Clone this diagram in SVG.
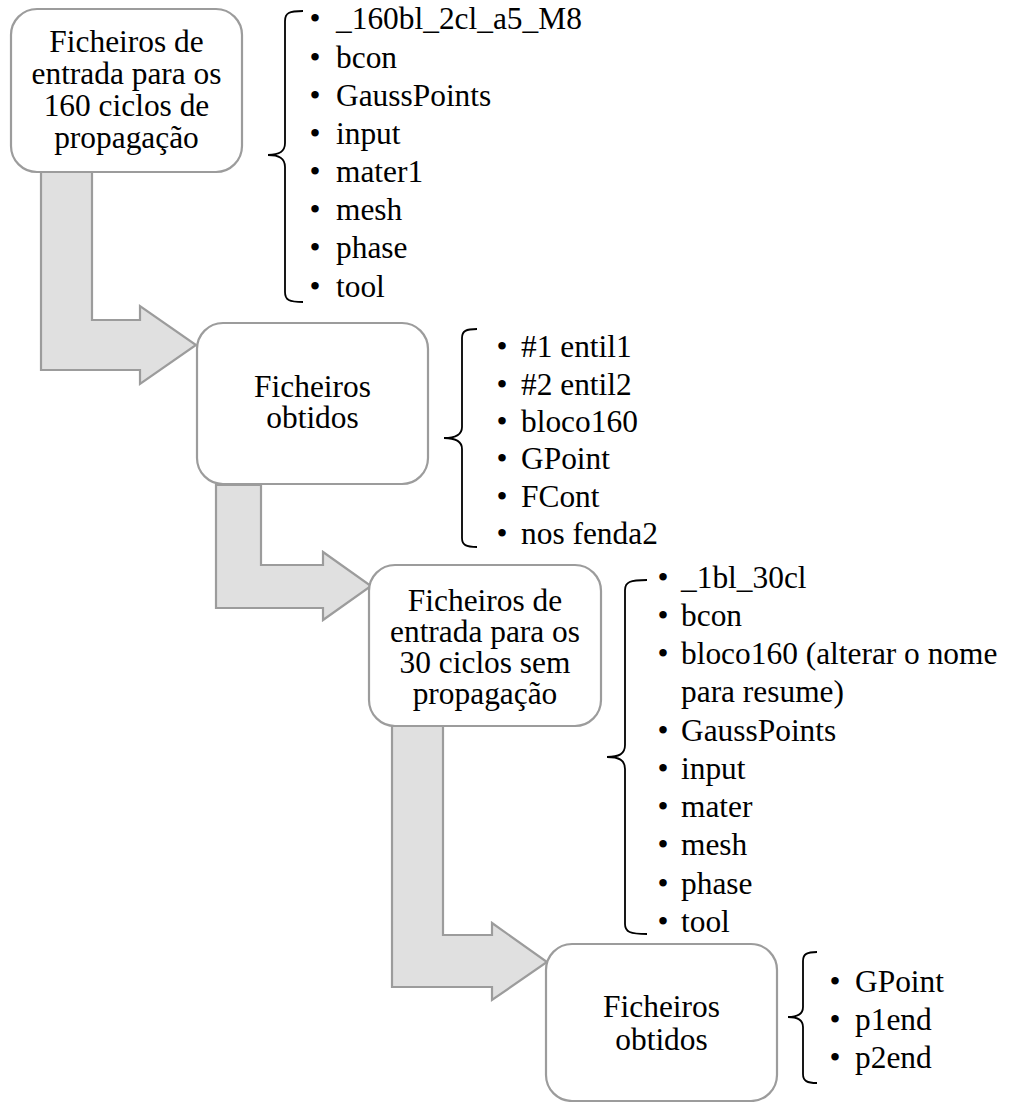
<svg xmlns="http://www.w3.org/2000/svg" width="1011" height="1102" viewBox="0 0 1011 1102">
<style>
  .box { fill: #ffffff; stroke: #9c9c9c; stroke-width: 2.2; }
  .arrow { fill: #e0e0e0; stroke: #9c9c9c; stroke-width: 2.2; stroke-linejoin: miter; }
  .brace { fill: none; stroke: #000000; stroke-width: 1.8; }
  text { font-family: 'Liberation Serif', 'Times New Roman', serif; font-size: 31.4px; fill: #000000; }
  .c { text-anchor: middle; }
  .b { text-anchor: middle; }
</style>
<rect x="0" y="0" width="1011" height="1102" fill="#ffffff"/>
<g id="connectors">
  <path class="arrow" d="M41,172 L92,172 L92,320 L140,320 L140,306 L196,345 L140,384 L140,370 L41,370 Z"/>
  <path class="arrow" d="M216,485 L261,485 L261,565 L323,565 L323,552 L371,586 L323,620 L323,608 L216,608 Z"/>
  <path class="arrow" d="M392,726 L443,726 L443,935 L492,935 L492,923 L547,962 L492,1000 L492,987 L392,987 Z"/>
</g>
<g id="node1">
  <rect class="box" x="11" y="9" width="231" height="163" rx="26" ry="26"/>
  <text class="c" x="126.5" y="52"><tspan x="126.5" y="52">Ficheiros de</tspan><tspan x="126.5" y="84">entrada para os</tspan><tspan x="126.5" y="116">160 ciclos de</tspan><tspan x="126.5" y="148">propagação</tspan></text>
</g>
<g id="list1">
  <path class="brace" d="M303,11 C289,11 285,13 285,21 L285,143 C285,152 279,155 268,155 C279,155 285,158 285,167 L285,292 C285,300 289,302 303,302"/>
  <text class="b" x="315" y="29">•</text><text x="336" y="29">_160bl_2cl_a5_M8</text>
  <text class="b" x="315" y="67.5">•</text><text x="336" y="67.5">bcon</text>
  <text class="b" x="315" y="105.5">•</text><text x="336" y="105.5">GaussPoints</text>
  <text class="b" x="315" y="143.5">•</text><text x="336" y="143.5">input</text>
  <text class="b" x="315" y="182">•</text><text x="336" y="182">mater1</text>
  <text class="b" x="315" y="220">•</text><text x="336" y="220">mesh</text>
  <text class="b" x="315" y="258">•</text><text x="336" y="258">phase</text>
  <text class="b" x="315" y="296.5">•</text><text x="336" y="296.5">tool</text>
</g>
<g id="node2">
  <rect class="box" x="197" y="323" width="231" height="161" rx="26" ry="26"/>
  <text class="c" x="312.5" y="397"><tspan x="312.5" y="397">Ficheiros</tspan><tspan x="312.5" y="428">obtidos</tspan></text>
</g>
<g id="list2">
  <path class="brace" d="M477,329 C466,329 462,331 462,338 L462,427 C462,435 456,438 444,438 C456,438 462,441 462,449 L462,538 C462,545 466,547 477,547"/>
  <text class="b" x="502" y="357">•</text><text x="521" y="357">#1 entil1</text>
  <text class="b" x="502" y="394.5">•</text><text x="521" y="394.5">#2 entil2</text>
  <text class="b" x="502" y="432">•</text><text x="521" y="432">bloco160</text>
  <text class="b" x="502" y="469">•</text><text x="521" y="469">GPoint</text>
  <text class="b" x="502" y="506.5">•</text><text x="521" y="506.5">FCont</text>
  <text class="b" x="502" y="544">•</text><text x="521" y="544">nos fenda2</text>
</g>
<g id="node3">
  <rect class="box" x="369" y="565" width="232" height="161" rx="26" ry="26"/>
  <text class="c" x="485" y="611"><tspan x="485" y="611">Ficheiros de</tspan><tspan x="485" y="642">entrada para os</tspan><tspan x="485" y="673">30 ciclos sem</tspan><tspan x="485" y="704">propagação</tspan></text>
</g>
<g id="list3">
  <path class="brace" d="M647,580 C630,580 625,582 625,590 L625,745 C625,754 619,757 607,757 C619,757 625,760 625,769 L625,924 C625,932 630,934 647,934"/>
  <text class="b" x="663" y="588">•</text><text x="681" y="588">_1bl_30cl</text>
  <text class="b" x="663" y="626">•</text><text x="681" y="626">bcon</text>
  <text class="b" x="663" y="664">•</text><text x="681" y="664"><tspan x="681" y="664">bloco160 (alterar o nome</tspan><tspan x="681" y="702">para resume)</tspan></text>
  <text class="b" x="663" y="741">•</text><text x="681" y="741">GaussPoints</text>
  <text class="b" x="663" y="779">•</text><text x="681" y="779">input</text>
  <text class="b" x="663" y="817">•</text><text x="681" y="817">mater</text>
  <text class="b" x="663" y="855">•</text><text x="681" y="855">mesh</text>
  <text class="b" x="663" y="894">•</text><text x="681" y="894">phase</text>
  <text class="b" x="663" y="932">•</text><text x="681" y="932">tool</text>
</g>
<g id="node4">
  <rect class="box" x="546" y="944" width="231" height="157" rx="26" ry="26"/>
  <text class="c" x="661.5" y="1017"><tspan x="661.5" y="1017">Ficheiros</tspan><tspan x="661.5" y="1050">obtidos</tspan></text>
</g>
<g id="list4">
  <path class="brace" d="M817,952 C807,952 803,954 803,961 L803,1007 C803,1014 798,1017 788,1017 C798,1017 803,1020 803,1027 L803,1074 C803,1081 807,1083 817,1083"/>
  <text class="b" x="835" y="992">•</text><text x="855" y="992">GPoint</text>
  <text class="b" x="835" y="1030">•</text><text x="855" y="1030">p1end</text>
  <text class="b" x="835" y="1068">•</text><text x="855" y="1068">p2end</text>
</g>
</svg>
